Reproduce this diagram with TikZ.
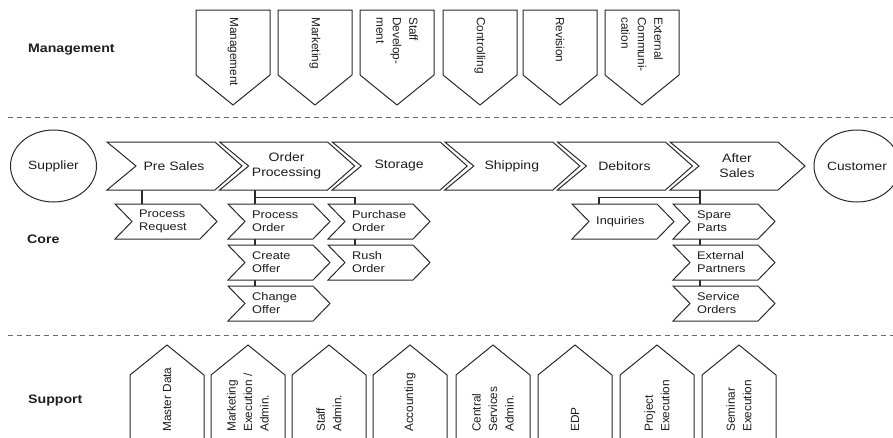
\documentclass[tikz,border=0pt]{standalone}
\usepackage{fontspec}
\setmainfont{Liberation Sans}[FakeStretch=1.15]
\newfontfamily\rotfont{Liberation Sans}
\usetikzlibrary{shapes.geometric}
\definecolor{ln}{HTML}{2B2B2B}
\definecolor{tx}{HTML}{1E1E1E}
\definecolor{dsh}{HTML}{6A6A6A}
\tikzset{
  shp/.style={draw=ln, line width=1pt, fill=white, line join=miter},
  conn/.style={draw=ln, line width=1.6pt},
  maintext/.style={text=tx, font=\fontsize{12.2}{15}\selectfont, align=center, inner sep=0pt},
  subtext/.style={text=tx, font=\fontsize{11.1}{13}\selectfont, align=left, inner sep=0pt, anchor=west},
  rottext/.style={text=tx, font=\rotfont\fontsize{11.8}{16.5}\selectfont, align=left, inner sep=0pt, anchor=west},
  lanelabel/.style={text=tx, font=\bfseries\fontsize{12.3}{14}\selectfont, inner sep=0pt, anchor=west},
  sepline/.style={draw=dsh, line width=0.9pt, dash pattern=on 5pt off 4pt},
  endpoint/.style={shp, ellipse, text=tx, font=\fontsize{12}{14}\selectfont, minimum width=86pt, minimum height=72pt, inner sep=0pt},
}
\newcommand\mainchev[3]{%
  \draw[shp] (#2,142) -- ({#2+108},142) -- ({#2+135},166) -- ({#2+108},190) -- (#2,190) -- ({#2+29},166) -- cycle;
  \node[maintext] (#1) at ({#2+67},166) {#3};
  \coordinate (#1-b) at ({#2+67},190);
}
\newcommand\subchev[4]{%
  \draw[shp] (#2,#3) -- ({#2+85},#3) -- ({#2+102},{#3+17.5}) -- ({#2+85},{#3+35}) -- (#2,{#3+35}) -- ({#2+17},{#3+17.5}) -- cycle;
  \node[subtext] (#1) at ({#2+24},{#3+17.5}) {#4};
}
\newcommand\mgmtbox[3]{%
  \draw[shp] (#2,10) -- ({#2+74},10) -- ({#2+74},75) -- ({#2+37},105) -- (#2,75) -- cycle;
  \node[rottext, rotate=-90] (#1) at ({#2+37},17) {#3};
}
\newcommand\suppbox[3]{%
  \draw[shp] (#2,450) -- (#2,375) -- ({#2+37},345) -- ({#2+74},375) -- ({#2+74},450);
  \node[rottext, rotate=90] (#1) at ({#2+37},432) {#3};
}
\begin{document}
\begin{tikzpicture}[x=1pt,y=-1pt]
\useasboundingbox (0,0) rectangle (893,437);
\clip (0,0) rectangle (893,437);
\fill[white] (0,0) rectangle (893,437);

% lane labels
\node[lanelabel] (lmgmt) at (28,50) {Management};
\node[lanelabel] (lcore) at (27,239) {Core};
\node[lanelabel] (lsupp) at (28,400) {Support};

% separators
\coordinate (s1a) at (8,117); \coordinate (s1b) at (893,117);
\coordinate (s2a) at (8,335); \coordinate (s2b) at (893,335);
\draw[sepline] (s1a) -- (s1b);
\draw[sepline] (s2a) -- (s2b);

% management
\mgmtbox{m1}{196}{Management}
\mgmtbox{m2}{278}{Marketing}
\mgmtbox{m3}{360}{Staff\\Develop-\\ment}
\mgmtbox{m4}{443}{Controlling}
\mgmtbox{m5}{523}{Revision}
\mgmtbox{m6}{605}{External\\Communi-\\cation}

% core endpoints
\node[endpoint] (supplier) at (53.5,166) {Supplier};
\node[endpoint] (customer) at (857,166) {Customer};

% connector ports
\coordinate (busy) at (0,197.5);
\coordinate (procreq-top) at (142,204);
\coordinate (procord-top) at (255,204);
\coordinate (purch-top) at (355,204);
\coordinate (inq-top) at (599,204);
\coordinate (spare-top) at (700,204);
\coordinate (presales-b) at (174,190);
\coordinate (ordproc-b) at (287,190);
\coordinate (aftersales-b) at (737,190);
\draw[conn] (procreq-top |- presales-b) -- (procreq-top);
\draw[conn] (procord-top |- ordproc-b) -- (procord-top);
\draw[conn] (procord-top |- busy) -| (purch-top);
\draw[conn] (spare-top |- aftersales-b) -- (spare-top);
\draw[conn] (spare-top |- busy) -| (inq-top);
\coordinate (c1) at (255,239); \coordinate (c2) at (255,245);
\coordinate (c3) at (255,280); \coordinate (c4) at (255,286);
\coordinate (c5) at (355,239); \coordinate (c6) at (355,245);
\coordinate (c7) at (700,239); \coordinate (c8) at (700,245);
\coordinate (c9) at (700,280); \coordinate (c10) at (700,286);
\draw[conn] (c1) -- (c2); \draw[conn] (c3) -- (c4);
\draw[conn] (c5) -- (c6); \draw[conn] (c7) -- (c8); \draw[conn] (c9) -- (c10);

% main chevrons
\mainchev{presales}{107}{Pre Sales}
\mainchev{ordproc}{219.6}{Order\\Processing}
\mainchev{storage}{332.2}{Storage}
\mainchev{shipping}{444.8}{Shipping}
\mainchev{debitors}{557.4}{Debitors}
\mainchev{aftersales}{670}{After\\Sales}

% sub chevrons
\subchev{procreq}{115}{204}{Process\\Request}
\subchev{procord}{228}{204}{Process\\Order}
\subchev{createoff}{228}{245}{Create\\Offer}
\subchev{changeoff}{228}{286}{Change\\Offer}
\subchev{purch}{328}{204}{Purchase\\Order}
\subchev{rush}{328}{245}{Rush\\Order}
\subchev{inq}{572}{204}{Inquiries}
\subchev{spare}{673}{204}{Spare\\Parts}
\subchev{extpart}{673}{245}{External\\Partners}
\subchev{servord}{673}{286}{Service\\Orders}

% support
\suppbox{s1}{130}{Master Data}
\suppbox{s2}{211}{Marketing\\Execution /\\Admin.}
\suppbox{s3}{292}{Staff\\Admin.}
\suppbox{s4}{373}{Accounting}
\suppbox{s5}{456}{Central\\Services\\Admin.}
\suppbox{s6}{538}{EDP}
\suppbox{s7}{620}{Project\\Execution}
\suppbox{s8}{702}{Seminar\\Execution}
\end{tikzpicture}
\end{document}
